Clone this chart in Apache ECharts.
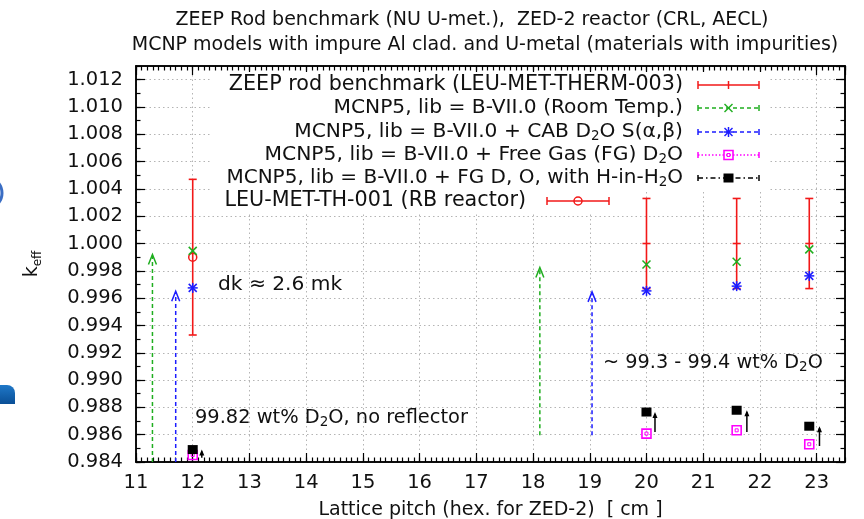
<!DOCTYPE html>
<html>
<head>
<meta charset="utf-8">
<script src="https://cdn.jsdelivr.net/npm/echarts@6/dist/echarts.min.js"></script>
<style>
  html, body { margin: 0; padding: 0; background: #fff; }
  #chart { width: 864px; height: 519px; }
</style>
</head>
<body>
<div id="chart"></div>
<script>
// ---- data -----------------------------------------------------------
// Lattice pitch [cm] of the computed configurations
const pitch = [12.0, 20.0, 21.59, 22.87];

// ZEEP rod benchmark (LEU-MET-THERM-003) at the ZED-2 pitches
const zeepPitch = [20.0, 21.59, 22.87];
const zeepKeff  = [1.0000, 1.0000, 1.0000];
const zeepUnc   = [0.0033, 0.0033, 0.0033];

// LEU-MET-TH-001 (RB reactor)
const rbPitch = [12.0];
const rbKeff  = [0.9990];
const rbUnc   = [0.0057];

// MCNP5 results, one value per pitch
const roomTemp = [0.99946, 0.99847, 0.99866, 0.99957];  // B-VII.0 (room temp.)
const cabSab   = [0.99675, 0.99653, 0.99688, 0.99763];  // + CAB D2O S(a,b)
const freeGas  = [0.98451, 0.98608, 0.98632, 0.98530];  // + free gas D2O
const fgHinH2O = [0.98491, 0.98766, 0.98779, 0.98662];  // + FG D, O with H-in-H2O

// small black arrows: shift from free gas towards H-in-H2O
const shiftX    = [12.16, 20.15, 21.77, 23.05];
const shiftFrom = [0.98432, 0.98620, 0.98620, 0.98517];
const shiftTo   = [0.98491, 0.98766, 0.98779, 0.98662];

// dashed arrows showing the S(a,b) effect (dk)
const dkX    = [11.29, 11.70, 18.12, 19.04];
const dkFrom = [0.9840, 0.9840, 0.98596, 0.98596];
const dkTo   = [0.99920, 0.99651, 0.99825, 0.99646];
const dkSet  = ['green', 'blue', 'green', 'blue'];

// axis ranges
const xMin = 11, xMax = 23.5, xStep = 1, xMinorStep = 0.1;
const yMin = 0.984, yMax = 1.013, yStep = 0.002, yMinorStep = 0.001;

// ---- styling --------------------------------------------------------
const FONT = 'DejaVu Sans';
const TXT = '#111';
const COL = { red: '#f21818', green: '#1fae1f', blue: '#1c1cff', magenta: '#ff00ff', black: '#000000' };

function marker(kind, x, y, color) {
  const s = { stroke: color, lineWidth: 1.5, fill: 'none' };
  if (kind === 'x') {
    return [
      { type: 'line', shape: { x1: x - 4, y1: y - 4, x2: x + 4, y2: y + 4 }, style: s },
      { type: 'line', shape: { x1: x - 4, y1: y + 4, x2: x + 4, y2: y - 4 }, style: s }
    ];
  }
  if (kind === 'star') {
    return [
      { type: 'line', shape: { x1: x - 4, y1: y - 4, x2: x + 4, y2: y + 4 }, style: s },
      { type: 'line', shape: { x1: x - 4, y1: y + 4, x2: x + 4, y2: y - 4 }, style: s },
      { type: 'line', shape: { x1: x - 5, y1: y, x2: x + 5, y2: y }, style: s },
      { type: 'line', shape: { x1: x, y1: y - 5, x2: x, y2: y + 5 }, style: s }
    ];
  }
  if (kind === 'box') {
    return [
      { type: 'rect', shape: { x: x - 4.5, y: y - 4.5, width: 9, height: 9 }, style: { stroke: color, lineWidth: 1.6, fill: 'none' } },
      { type: 'rect', shape: { x: x - 1.5, y: y - 1.5, width: 3, height: 3 }, style: { stroke: color, lineWidth: 1, fill: 'none' } }
    ];
  }
  if (kind === 'fbox') {
    return [{ type: 'rect', shape: { x: x - 5, y: y - 4.5, width: 10, height: 9 }, style: { fill: color, stroke: null } }];
  }
  if (kind === 'circle') {
    return [{ type: 'circle', shape: { cx: x, cy: y, r: 4 }, style: { stroke: color, lineWidth: 1.5, fill: 'none' } }];
  }
  return [];
}

function pointSeries(name, values, kind, color) {
  return {
    type: 'custom', name: name, xAxisIndex: 0, yAxisIndex: 0, z: 5,
    data: pitch.map((x, i) => [x, values[i]]),
    encode: { x: 0, y: 1 },
    renderItem: function (params, api) {
      const p = api.coord([api.value(0), api.value(1)]);
      return { type: 'group', children: marker(kind, p[0], p[1], color) };
    }
  };
}

function errorSeries(name, xs, ks, us, withCircle) {
  return {
    type: 'custom', name: name, xAxisIndex: 0, yAxisIndex: 0, z: 4,
    data: xs.map((x, i) => [x, ks[i], ks[i] - us[i], ks[i] + us[i]]),
    encode: { x: 0, y: [1, 2, 3] },
    renderItem: function (params, api) {
      const c = api.coord([api.value(0), api.value(1)]);
      const lo = api.coord([api.value(0), api.value(2)]);
      const hi = api.coord([api.value(0), api.value(3)]);
      const s = { stroke: COL.red, lineWidth: 1.6 };
      const kids = [
        { type: 'line', shape: { x1: c[0], y1: lo[1], x2: c[0], y2: hi[1] }, style: s },
        { type: 'line', shape: { x1: c[0] - 4, y1: lo[1], x2: c[0] + 4, y2: lo[1] }, style: s },
        { type: 'line', shape: { x1: c[0] - 4, y1: hi[1], x2: c[0] + 4, y2: hi[1] }, style: s }
      ];
      if (withCircle) kids.push.apply(kids, marker('circle', c[0], c[1], COL.red));
      else kids.push({ type: 'line', shape: { x1: c[0] - 4, y1: c[1], x2: c[0] + 4, y2: c[1] }, style: s });
      return { type: 'group', children: kids };
    }
  };
}

const series = [
  errorSeries('ZEEP rod benchmark (LEU-MET-THERM-003)', zeepPitch, zeepKeff, zeepUnc, false),
  errorSeries('LEU-MET-TH-001 (RB reactor)', rbPitch, rbKeff, rbUnc, true),
  pointSeries('MCNP5 room temp.', roomTemp, 'x', COL.green),
  pointSeries('MCNP5 CAB', cabSab, 'star', COL.blue),
  pointSeries('MCNP5 free gas', freeGas, 'box', COL.magenta),
  pointSeries('MCNP5 H-in-H2O', fgHinH2O, 'fbox', COL.black),
  {
    // dashed dk arrows with open heads
    type: 'custom', name: 'dk arrows', xAxisIndex: 0, yAxisIndex: 0, z: 3,
    data: dkX.map((x, i) => [x, dkFrom[i], dkTo[i], i]),
    encode: { x: 0, y: [1, 2] },
    renderItem: function (params, api) {
      const a = api.coord([api.value(0), api.value(1)]);
      const b = api.coord([api.value(0), api.value(2)]);
      const color = COL[dkSet[api.value(3)]];
      return { type: 'group', children: [
        { type: 'line', shape: { x1: a[0], y1: a[1], x2: b[0], y2: b[1] + 1 },
          style: { stroke: color, lineWidth: 1.5, lineDash: [4, 3], fill: 'none' } },
        { type: 'polyline', shape: { points: [[b[0] - 4, b[1] + 10], [b[0], b[1]], [b[0] + 4, b[1] + 10]] },
          style: { stroke: color, lineWidth: 1.5, fill: 'none' } }
      ] };
    }
  },
  {
    // small solid shift arrows
    type: 'custom', name: 'shift arrows', xAxisIndex: 0, yAxisIndex: 0, z: 3,
    data: shiftX.map((x, i) => [x, shiftFrom[i], shiftTo[i]]),
    encode: { x: 0, y: [1, 2] },
    renderItem: function (params, api) {
      const a = api.coord([api.value(0), api.value(1)]);
      const b = api.coord([api.value(0), api.value(2)]);
      return { type: 'group', children: [
        { type: 'line', shape: { x1: a[0], y1: a[1], x2: b[0], y2: b[1] + 2 }, style: { stroke: '#000', lineWidth: 1.5 } },
        { type: 'polygon', shape: { points: [[b[0] - 2.5, b[1] + 6], [b[0], b[1]], [b[0] + 2.5, b[1] + 6]] }, style: { fill: '#000' } }
      ] };
    }
  }
];

// ---- axes -----------------------------------------------------------
const tickLine = { color: '#000', width: 1.2 };
const frame = { show: true, onZero: false, lineStyle: { color: '#000', width: 1.5 } };
const grid = { left: 136, right: 19, top: 66, bottom: 57, containLabel: false, outerBoundsMode: 'none' };

function xAx(pos, step, len, main) {
  return {
    type: 'value', position: pos, min: xMin, max: xMax, interval: step,
    axisLine: frame,
    axisTick: { show: true, inside: true, length: len, lineStyle: tickLine },
    axisLabel: main ? {
      show: true, margin: 11, fontFamily: FONT, fontSize: 19.5, color: TXT,
      showMaxLabel: false, formatter: v => String(Math.round(v))
    } : { show: false },
    splitLine: main ? { show: true, lineStyle: { color: '#b4b4b4', width: 1, type: [1.5, 3] } } : { show: false },
    name: main ? 'Lattice pitch (hex. for ZED-2)  [ cm ]' : '',
    nameLocation: 'middle', nameGap: 39,
    nameTextStyle: { fontFamily: FONT, fontSize: 19, color: TXT }
  };
}
function yAx(pos, step, len, main) {
  return {
    type: 'value', position: pos, min: yMin, max: yMax, interval: step,
    axisLine: frame,
    axisTick: { show: true, inside: true, length: len, lineStyle: tickLine },
    axisLabel: main ? {
      show: true, margin: 13, fontFamily: FONT, fontSize: 19.5, color: TXT,
      showMaxLabel: false, formatter: v => v.toFixed(3)
    } : { show: false },
    splitLine: main ? { show: true, lineStyle: { color: '#b4b4b4', width: 1, type: [1.5, 3] } } : { show: false },
    name: main ? 'k{s|eff}' : '',
    nameLocation: 'middle', nameGap: 92, nameRotate: 90,
    nameTextStyle: {
      fontFamily: FONT, fontSize: 19, color: TXT,
      rich: { s: { fontFamily: FONT, fontSize: 12, verticalAlign: 'bottom', padding: [12, 0, 0, 0] } }
    }
  };
}

// ---- key and annotations -------------------------------------------
const sub = { fontFamily: FONT, fontSize: 13.5, fill: TXT, padding: [9, 0, 0, 0] };
function label(x, y, text, size, align) {
  return {
    type: 'text', x: x, y: y, z: 20,
    style: {
      text: text, fontFamily: FONT, fontSize: size, fill: TXT,
      align: align, textAlign: align, verticalAlign: 'middle', textVerticalAlign: 'middle',
      rich: { s: sub }
    }
  };
}
function sample(x1, x2, y, color, dash, kind, caps, mid) {
  const st = { stroke: color, lineWidth: 1.5 };
  if (dash) st.lineDash = dash;
  const els = [{ type: 'line', z: 20, shape: { x1: x1, y1: y, x2: x2, y2: y }, style: st }];
  const cs = { stroke: color, lineWidth: 1.5 };
  els.push({ type: 'line', z: 20, shape: { x1: x1, y1: y - caps, x2: x1, y2: y + caps }, style: cs });
  els.push({ type: 'line', z: 20, shape: { x1: x2, y1: y - caps, x2: x2, y2: y + caps }, style: cs });
  const m = (x1 + x2) / 2;
  if (mid) els.push({ type: 'line', z: 20, shape: { x1: m, y1: y - caps, x2: m, y2: y + caps }, style: cs });
  marker(kind, m, y, color).forEach(e => { e.z = 21; els.push(e); });
  return els;
}

const keyRight = 683, sx1 = 698, sx2 = 759;
const rows = [85, 108, 132, 155, 178];
const keyEls = [
  { type: 'rect', z: 1, shape: { x: 212, y: 72, width: 556, height: 118 }, style: { fill: '#fff' } },
  { type: 'rect', z: 1, shape: { x: 218, y: 191, width: 398, height: 22 }, style: { fill: '#fff' } },
  label(keyRight, rows[0], 'ZEEP rod benchmark (LEU-MET-THERM-003)', 20.7, 'right'),
  label(keyRight, rows[1], 'MCNP5, lib = B-VII.0 (Room Temp.)', 20.2, 'right'),
  label(keyRight, rows[2], 'MCNP5, lib = B-VII.0 + CAB D{s|2}O S(α,β)', 20.2, 'right'),
  label(keyRight, rows[3], 'MCNP5, lib = B-VII.0 + Free Gas (FG) D{s|2}O', 20.3, 'right'),
  label(keyRight, rows[4], 'MCNP5, lib = B-VII.0 + FG D, O, with H-in-H{s|2}O', 20.0, 'right'),
  label(526, 201, 'LEU-MET-TH-001 (RB reactor)', 20.7, 'right')
]
.concat(sample(sx1, sx2, rows[0], COL.red, null, '', 4, true))
.concat(sample(sx1, sx2, rows[1], COL.green, [4, 3], 'x', 3, false))
.concat(sample(sx1, sx2, rows[2], COL.blue, [4, 3], 'star', 3, false))
.concat(sample(sx1, sx2, rows[3], COL.magenta, [1.5, 2], 'box', 3, false))
.concat(sample(sx1, sx2, rows[4], COL.black, [5, 3, 1.5, 3], 'fbox', 3, false))
.concat(sample(547, 609, 201, COL.red, null, 'circle', 4, false));

const notes = [
  label(218, 285, 'dk ≈ 2.6 mk', 20.2, 'left'),
  label(603, 363, '~ 99.3 - 99.4 wt% D{s|2}O', 19.3, 'left'),
  label(195, 418, '99.82 wt% D{s|2}O, no reflector', 19.4, 'left')
];

const titleEls = [
  label(472, 20, 'ZEEP Rod benchmark (NU U-met.),  ZED-2 reactor (CRL, AECL)', 19, 'center'),
  label(485, 45, 'MCNP models with impure Al clad. and U-metal (materials with impurities)', 19, 'center')
];

// slide remnants at the left margin
const sideEls = [
  { type: 'circle', z: 0, shape: { cx: -14, cy: 193, r: 16 }, style: { fill: 'none', stroke: '#3b6ec4', lineWidth: 3 } },
  { type: 'rect', z: 0, shape: { x: 0, y: 385, width: 15, height: 19, r: [0, 8, 0, 0] },
    style: { fill: { type: 'linear', x: 0, y: 0, x2: 0, y2: 1, colorStops: [{ offset: 0, color: '#1f78c8' }, { offset: 1, color: '#0a4f96' }] } } }
];

const chart = echarts.init(document.getElementById('chart'), null, { renderer: 'canvas' });
chart.setOption({
  animation: false,
  backgroundColor: '#ffffff',
  grid: grid,
  xAxis: [
    xAx('bottom', xStep, 9, true),
    xAx('top', xStep, 9, false),
    xAx('bottom', xMinorStep, 4.5, false),
    xAx('top', xMinorStep, 4.5, false)
  ],
  yAxis: [
    yAx('left', yStep, 9, true),
    yAx('right', yStep, 9, false),
    yAx('left', yMinorStep, 4.5, false),
    yAx('right', yMinorStep, 4.5, false)
  ],
  series: series,
  graphic: { elements: titleEls.concat(keyEls, notes, sideEls) }
});
</script>
</body>
</html>
